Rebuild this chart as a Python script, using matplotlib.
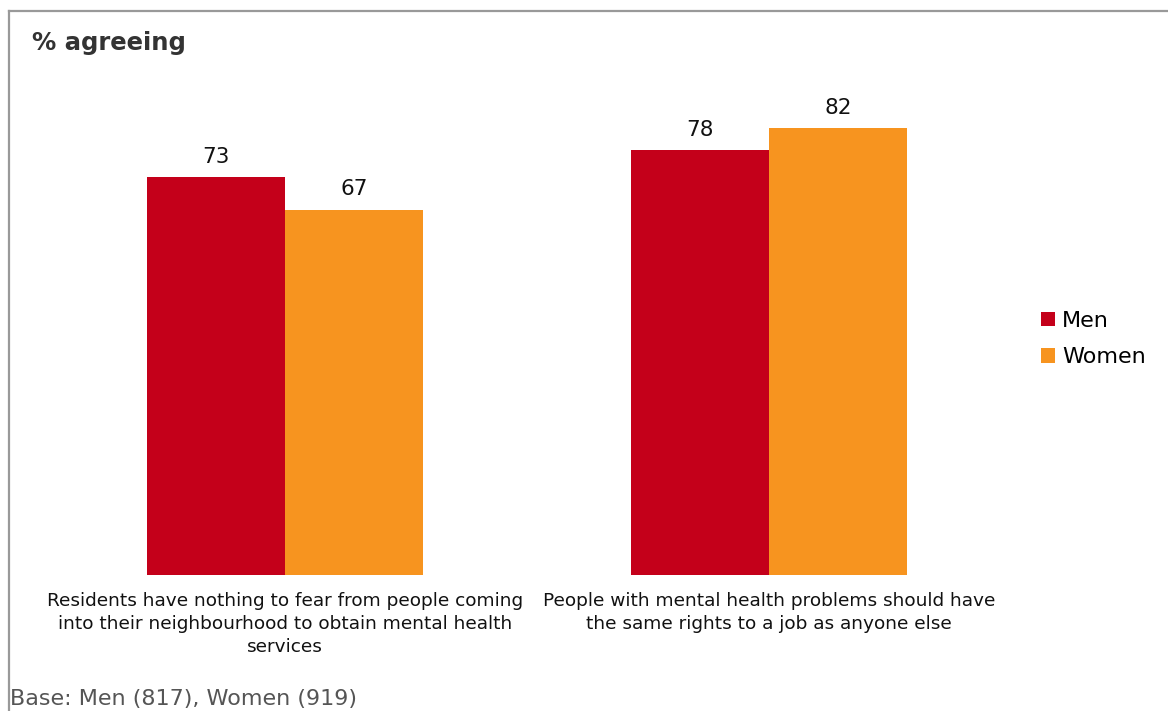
import numpy as np
import matplotlib.pyplot as plt
from matplotlib.lines import Line2D

# data
categories = ['Residents have nothing to fear from people coming\ninto their neighbourhood to obtain mental health\nservices',
              'People with mental health problems should have\nthe same rights to a job as anyone else']
men = [73, 78]
women = [67, 82]
series_names = ['Men', 'Women']

MEN_COL = '#C4001A'
WOMEN_COL = '#F7941F'

fig = plt.figure(figsize=(11.68, 7.11), dpi=100)
ax = fig.add_axes([0.0368, 0.1913, 0.8288, 0.7665])

x = np.arange(len(categories))
w = 0.285
b1 = ax.bar(x - w / 2, men, w, color=MEN_COL, label=series_names[0])
b2 = ax.bar(x + w / 2, women, w, color=WOMEN_COL, label=series_names[1])

for bars in (b1, b2):
    for r in bars:
        ax.text(r.get_x() + r.get_width() / 2, r.get_height() + 1.9, '%d' % r.get_height(),
                ha='center', va='bottom', fontsize=15.5, color='#111111')

ax.set_xlim(-0.5, 1.5)
ax.set_ylim(0, 100)
ax.set_xticks(x)
ax.set_xticklabels(categories, fontsize=13.3, color='#111111', linespacing=1.38)
ax.tick_params(axis='x', length=0, pad=12)
ax.set_yticks([])
for s in ax.spines.values():
    s.set_visible(False)

leg = fig.legend(handles=[b1, b2], labels=series_names, loc='center left',
                 bbox_to_anchor=(0.874, 0.523), frameon=False, fontsize=16,
                 handlelength=0.65, handleheight=0.65, handletextpad=0.3,
                 labelspacing=0.75)

fig.text(0.0274, 0.940, '% agreeing', fontsize=17.5, fontweight='bold', color='#333333',
         ha='left', va='center')
fig.text(0.0085, 0.017, 'Base: Men (817), Women (919)', fontsize=16, color='#555555',
         ha='left', va='center')

# outer frame (top and left only)
fig.add_artist(Line2D([0.0077, 1.0], [0.985, 0.985], transform=fig.transFigure,
                      color='#999999', lw=1.6))
fig.add_artist(Line2D([0.0077, 0.0077], [0.0, 0.985], transform=fig.transFigure,
                      color='#999999', lw=1.6))

fig.savefig('out.png', dpi=100, facecolor='white')
